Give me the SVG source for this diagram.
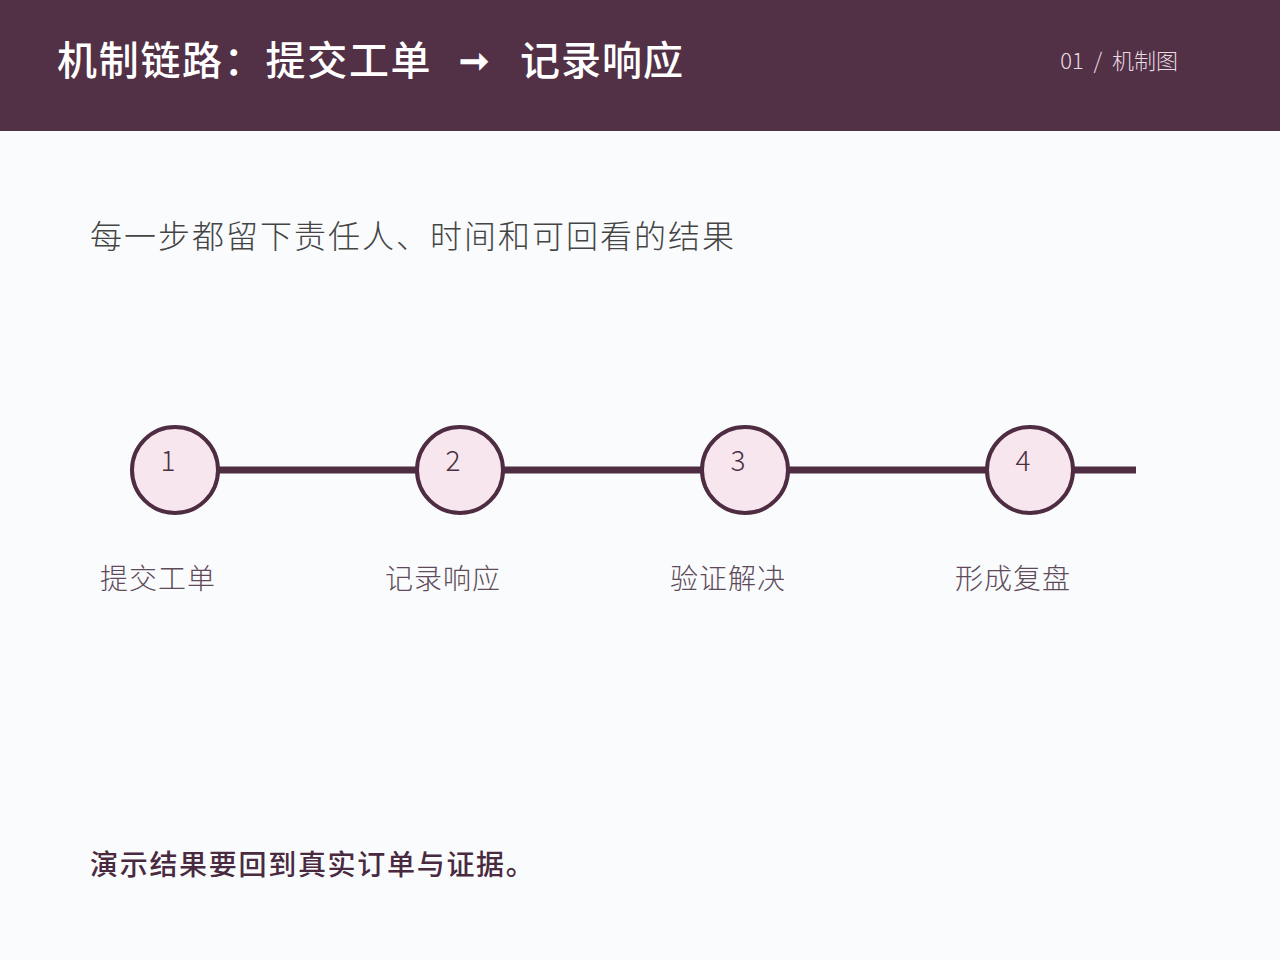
<svg xmlns="http://www.w3.org/2000/svg" width="1280" height="960" viewBox="0 0 1280 960">
<style>
text{font-family:"Noto Sans CJK SC","Noto Sans",sans-serif}
.num{font-size:28px;font-weight:300;fill:#4a3040;text-anchor:middle}
.lab{font-size:28px;font-weight:300;fill:#5e4a58;letter-spacing:1px}
.node circle{fill:#f8e6ee;stroke:#4e2c42;stroke-width:4}
</style>
<rect width="1280" height="960" fill="#f9fbfd"/>
<rect width="1280" height="131" fill="#523045"/>
<text x="57" y="75" font-size="40" font-weight="500" fill="#ffffff" letter-spacing="1.7">机制链路：提交工单</text>
<text x="474" y="73" font-size="36" font-weight="700" fill="#ffffff" text-anchor="middle">➞</text>
<text x="520" y="75" font-size="40" font-weight="500" fill="#ffffff" letter-spacing="1">记录响应</text>
<text x="1178" y="69" font-size="22" font-weight="300" fill="#e8dce3" text-anchor="end" xml:space="preserve">01  /  机制图</text>
<text x="90" y="248" font-size="32" font-weight="300" fill="#444" letter-spacing="2">每一步都留下责任人、时间和可回看的结果</text>
<g id="connectors"><line x1="175" y1="470" x2="1136" y2="470" stroke="#4e2c42" stroke-width="7"/></g>
<g id="n1" class="node"><circle cx="175" cy="470" r="43"/><text class="num" x="168" y="471">1</text><text class="lab" x="100" y="589">提交工单</text></g>
<g id="n2" class="node"><circle cx="460" cy="470" r="43"/><text class="num" x="453" y="471">2</text><text class="lab" x="385" y="589">记录响应</text></g>
<g id="n3" class="node"><circle cx="745" cy="470" r="43"/><text class="num" x="738" y="471">3</text><text class="lab" x="670" y="589">验证解决</text></g>
<g id="n4" class="node"><circle cx="1030" cy="470" r="43"/><text class="num" x="1023" y="471">4</text><text class="lab" x="955" y="589">形成复盘</text></g>
<text x="90" y="875" font-size="28" font-weight="500" fill="#4a2a40" letter-spacing="1.7">演示结果要回到真实订单与证据。</text>
</svg>
